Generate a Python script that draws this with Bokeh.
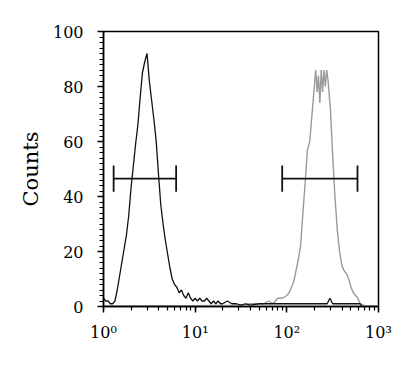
import numpy as np
from bokeh.plotting import figure
from bokeh.models import LogTicker, SingleIntervalTicker, Range1d
from bokeh.embed import file_html
from bokeh.resources import INLINE

# Isotype control histogram (black): log10(intensity), counts
black_log = [0.000, 0.025, 0.050, 0.075, 0.100, 0.125, 0.150, 0.175, 0.200, 0.225,
             0.250, 0.275, 0.300, 0.325, 0.350, 0.375, 0.400, 0.425, 0.450, 0.475,
             0.500, 0.525, 0.550, 0.575, 0.600, 0.625, 0.650, 0.675, 0.700, 0.725,
             0.750, 0.775, 0.800, 0.825, 0.850, 0.875, 0.900, 0.925, 0.950, 0.975,
             1.000, 1.025, 1.050, 1.075, 1.100, 1.125, 1.150, 1.175, 1.200, 1.225,
             1.250, 1.275, 1.300, 1.350, 1.400, 1.450, 1.500, 1.550, 1.600, 1.700,
             1.800, 1.900, 2.000, 2.200, 2.400, 2.440, 2.470, 2.500, 2.600, 2.800,
             2.820]
black_counts = [3, 2, 2, 1, 1, 2, 6, 11, 16, 21,
                26, 33, 43, 51, 59, 66, 76, 85, 89, 92,
                82, 75, 68, 60, 48, 37, 30, 24, 19, 14,
                10, 8, 7, 5, 6, 4, 3, 5, 3, 2,
                3, 2, 3, 2, 2, 3, 2, 1, 2, 1,
                2, 1, 1, 2, 1, 1, 0.5, 1, 0.5, 1,
                1, 1, 1, 1, 1, 1, 3, 1, 1, 1,
                0]

# Stained sample histogram (gray)
gray_log = [0.000, 1.000, 1.500, 1.600, 1.700, 1.750, 1.800, 1.850, 1.900, 1.950,
            2.000, 2.025, 2.050, 2.075, 2.100, 2.125, 2.150, 2.175, 2.200, 2.225,
            2.250, 2.275, 2.300, 2.315, 2.330, 2.345, 2.360, 2.375, 2.390, 2.405,
            2.420, 2.435, 2.450, 2.475, 2.500, 2.525, 2.550, 2.575, 2.600, 2.625,
            2.650, 2.675, 2.700, 2.725, 2.750, 2.775, 2.800, 2.850, 3.000]
gray_counts = [0.3, 0.3, 0.5, 1, 1, 1, 2, 1, 3, 3,
               4, 5, 7, 9, 13, 17, 22, 34, 45, 57,
               60, 70, 80, 86, 78, 84, 74, 86, 78, 86,
               80, 86, 82, 72, 55, 40, 28, 20, 15, 13,
               12, 10, 7, 5, 4, 3, 1, 0.3, 0.3]

# Marker gates
gate_start = [1.29, 89]
gate_end = [6.2, 590]
gate_level = [46.5, 46.5]
gate_cap = 4.8

x_ticks = [1, 10, 100, 1000]
x_tick_labels = ["10\u2070", "10\u00b9", "10\u00b2", "10\u00b3"]

p = figure(x_axis_type="log", output_backend="svg", toolbar_location=None,
           frame_width=275, frame_height=275,
           min_border_left=103, min_border_right=17, min_border_top=31, min_border_bottom=52,
           x_range=Range1d(1, 1000), y_range=Range1d(0, 100))

p.background_fill_color = "white"
p.border_fill_color = "white"
p.outline_line_color = "black"
p.outline_line_width = 1.5
p.grid.visible = False

bx = [10 ** v for v in black_log]
gx = [10 ** v for v in gray_log]
p.line(gx, gray_counts, line_color="#9a9a9a", line_width=1.4)
p.line(bx, black_counts, line_color="#111111", line_width=1.3)

gs = np.array(gate_start)
ge = np.array(gate_end)
gl = np.array(gate_level)
p.segment(gs, gl, ge, gl, line_color="#111111", line_width=1.6)
p.segment(gs, gl - gate_cap, gs, gl + gate_cap, line_color="#111111", line_width=1.8)
p.segment(ge, gl - gate_cap, ge, gl + gate_cap, line_color="#111111", line_width=1.8)

serif = "DejaVu Serif"

xa = p.xaxis[0]
xa.ticker = LogTicker(desired_num_ticks=4, num_minor_ticks=10)
xa.major_label_overrides = {t: l for t, l in zip(x_ticks, x_tick_labels)}
xa.major_label_text_font = serif
xa.major_label_text_font_size = "16px"
xa.major_label_text_color = "black"
xa.axis_line_width = 1.5
xa.major_tick_out = 6
xa.major_tick_in = 0
xa.minor_tick_out = 4
xa.minor_tick_in = 0
xa.major_tick_line_width = 1.5
xa.minor_tick_line_width = 1.2
xa.major_label_standoff = 10

ya = p.yaxis[0]
ya.ticker = SingleIntervalTicker(interval=20, num_minor_ticks=10)
ya.major_label_text_font = serif
ya.major_label_text_font_size = "16px"
ya.major_label_text_color = "black"
ya.axis_line_width = 1.5
ya.major_tick_out = 6
ya.major_tick_in = 0
ya.minor_tick_out = 4
ya.minor_tick_in = 0
ya.major_tick_line_width = 1.5
ya.minor_tick_line_width = 1.2
ya.major_label_standoff = 14
ya.axis_label = "Counts"
ya.axis_label_text_font = serif
ya.axis_label_text_font_size = "21px"
ya.axis_label_text_font_style = "normal"
ya.axis_label_text_color = "black"
ya.axis_label_standoff = 7

open("out.html", "w").write(file_html(p, INLINE))
